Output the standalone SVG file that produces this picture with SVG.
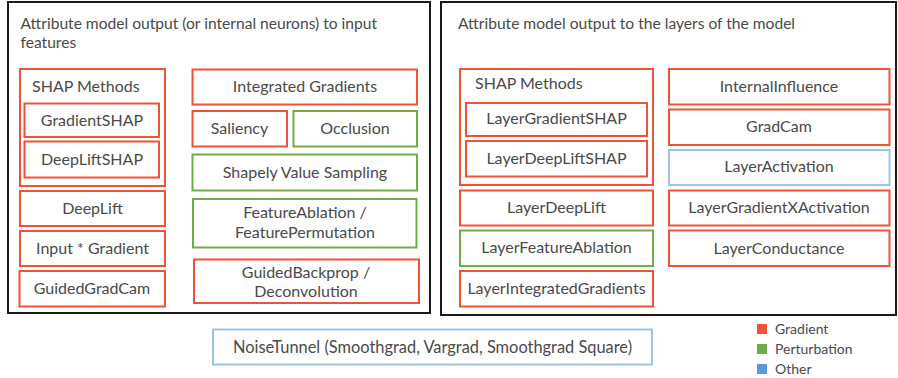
<svg xmlns="http://www.w3.org/2000/svg" width="898" height="378" viewBox="0 0 898 378">
<style>
text{font-family:Lato,"Open Sans","Liberation Sans",sans-serif;fill:#4a4a4a;}
.t{font-size:15.6px;}
.c{font-size:16px;text-anchor:middle;}
.l{font-size:14px;}
.panel{fill:#fff;stroke:#1a1a1a;stroke-width:2;}
.r{fill:#fff;stroke:#EF5234;stroke-width:2;}
.g{fill:#fff;stroke:#70AD47;stroke-width:2;}
.b{fill:#fff;stroke:#9DC3E6;stroke-width:2;}
</style>
<rect width="898" height="378" fill="#fff"/>
<g id="panel-input">
<rect class="panel" x="8" y="2" width="422" height="311"/>
<text class="t" x="20.5" y="29">Attribute model output (or internal neurons) to input</text>
<text class="t" x="20.5" y="48">features</text>
</g>
<g id="panel-layer">
<rect class="panel" x="441" y="2" width="455" height="313"/>
<text class="t" x="458" y="29">Attribute model output to the layers of the model</text>
</g>
<g id="shap-left">
<rect class="r" x="20" y="69" width="145" height="117"/>
<text class="c" style="text-anchor:start" x="32" y="92">SHAP Methods</text>
</g>
<g id="gradientshap"><rect class="r" x="24.5" y="103.5" width="134.5" height="33.5"/><text class="c" x="92" y="126">GradientSHAP</text></g>
<g id="deepliftshap"><rect class="r" x="24.5" y="141.5" width="134.5" height="36"/><text class="c" x="92" y="165">DeepLiftSHAP</text></g>
<g id="deeplift"><rect class="r" x="20" y="191" width="145" height="35"/><text class="c" x="92.5" y="214">DeepLift</text></g>
<g id="input-gradient"><rect class="r" x="20" y="231" width="145" height="35"/><text class="c" x="92.5" y="254">Input * Gradient</text></g>
<g id="guidedgradcam"><rect class="r" x="19.5" y="271" width="145.5" height="35.5"/><text class="c" x="92" y="294">GuidedGradCam</text></g>
<g id="integrated-gradients"><rect class="r" x="192.5" y="69.5" width="224.5" height="35"/><text class="c" x="305" y="92">Integrated Gradients</text></g>
<g id="saliency"><rect class="r" x="192.5" y="111" width="94.5" height="35.5"/><text class="c" x="239.5" y="134">Saliency</text></g>
<g id="occlusion"><rect class="g" x="293.5" y="111" width="123.5" height="35.5"/><text class="c" x="355" y="134">Occlusion</text></g>
<g id="shapely"><rect class="g" x="192.5" y="154.5" width="224.5" height="36"/><text class="c" x="305" y="178">Shapely Value Sampling</text></g>
<g id="featureablation"><rect class="g" x="193" y="199" width="223.5" height="48.5"/><text class="c" x="305" y="218">FeatureAblation /</text><text class="c" x="305" y="238">FeaturePermutation</text></g>
<g id="guidedbackprop"><rect class="r" x="194" y="259.5" width="225" height="43.5"/><text class="c" x="306" y="278">GuidedBackprop /</text><text class="c" x="306" y="297">Deconvolution</text></g>
<g id="shap-right">
<rect class="r" x="460" y="69" width="193" height="116"/>
<text class="c" style="text-anchor:start" x="475" y="89">SHAP Methods</text>
</g>
<g id="layergradientshap"><rect class="r" x="466" y="103" width="181" height="33"/><text class="c" x="556.5" y="124">LayerGradientSHAP</text></g>
<g id="layerdeepliftshap"><rect class="r" x="466" y="141" width="181" height="35.5"/><text class="c" x="556.5" y="164">LayerDeepLiftSHAP</text></g>
<g id="layerdeeplift"><rect class="r" x="460" y="190.5" width="193" height="35"/><text class="c" x="556.5" y="213">LayerDeepLift</text></g>
<g id="layerfeatureablation"><rect class="g" x="460" y="230.5" width="193" height="35.5"/><text class="c" x="556.5" y="253">LayerFeatureAblation</text></g>
<g id="layerintegratedgradients"><rect class="r" x="460" y="271" width="193" height="35.5"/><text class="c" x="556.5" y="294">LayerIntegratedGradients</text></g>
<g id="internalinfluence"><rect class="r" x="669" y="69" width="220.5" height="35.5"/><text class="c" x="779" y="92">InternalInfluence</text></g>
<g id="gradcam"><rect class="r" x="669" y="109.5" width="220.5" height="35.5"/><text class="c" x="779" y="132">GradCam</text></g>
<g id="layeractivation"><rect class="b" x="669" y="150" width="220.5" height="35"/><text class="c" x="779" y="172">LayerActivation</text></g>
<g id="layergradientxactivation"><rect class="r" x="669" y="190.5" width="220.5" height="35"/><text class="c" x="779" y="213">LayerGradientXActivation</text></g>
<g id="layerconductance"><rect class="r" x="669" y="230.5" width="220.5" height="35.5"/><text class="c" x="779" y="254">LayerConductance</text></g>
<g id="noisetunnel"><rect class="b" x="213" y="329.5" width="439" height="35"/><text class="c" style="font-size:16.4px" x="432.5" y="353">NoiseTunnel (Smoothgrad, Vargrad, Smoothgrad Square)</text></g>
<g id="legend">
<rect x="757" y="324" width="10" height="10" fill="#EF5234"/>
<text class="l" x="775" y="334">Gradient</text>
<rect x="757" y="344" width="10" height="10" fill="#70AD47"/>
<text class="l" x="775" y="354">Perturbation</text>
<rect x="757" y="364" width="10" height="10" fill="#5B9BD5"/>
<text class="l" x="775" y="374">Other</text>
</g>
<g id="connectors"></g>
</svg>
